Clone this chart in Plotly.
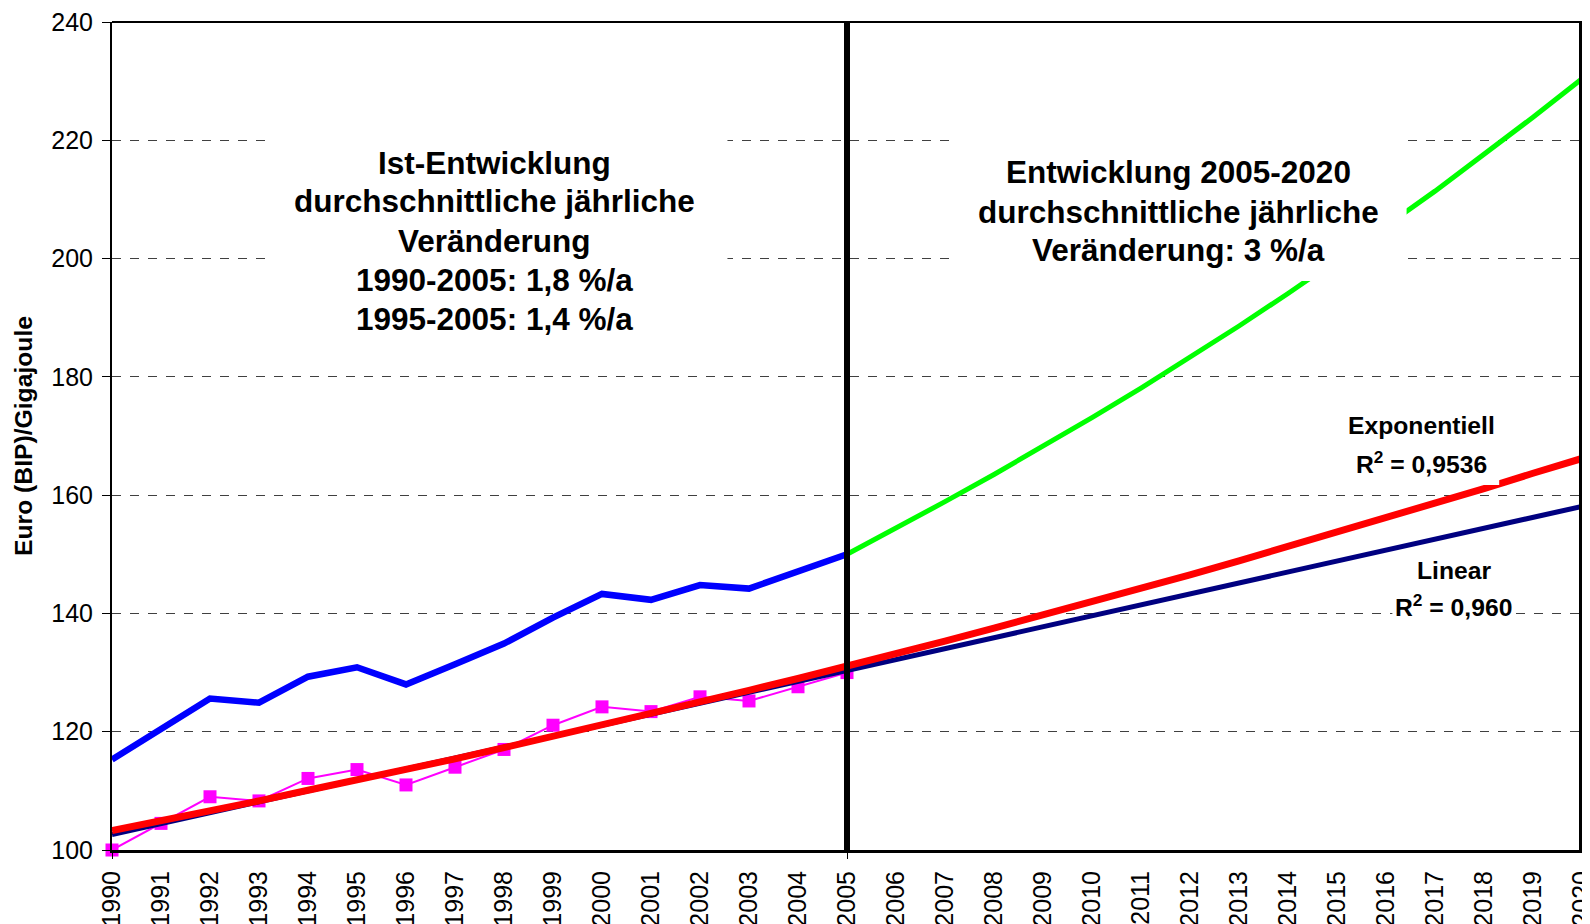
import plotly.graph_objects as go

# ---------------- data ----------------
years_hist = list(range(1990, 2006))
actual_blue = [115.3, 120.6, 125.6, 124.9, 129.3, 130.9, 128.0, 131.4, 134.9, 139.3,
               143.3, 142.3, 144.8, 144.2, 147.0, 150.0]
index_pink = [100.0, 104.5, 109.0, 108.3, 112.1, 113.6, 111.0, 114.0, 117.0, 121.1,
              124.2, 123.4, 125.9, 125.2, 127.6, 130.0]

years_future = list(range(2005, 2021))
scenario_green = [150.0, 154.4, 158.9, 163.5, 168.2, 173.1, 178.1, 183.3, 188.6, 194.1,
                  199.7, 205.5, 211.4, 217.6, 223.9, 230.4]

years_all = list(range(1990, 2021))
trend_exp = [103.3, 104.9, 106.6, 108.3, 110.1, 111.8, 113.6, 115.4, 117.3, 119.2,
             121.1, 123.0, 125.0, 127.0, 129.0, 131.0, 133.2, 135.3, 137.5, 139.7,
             141.9, 144.2, 146.5, 148.9, 151.3, 153.6, 156.1, 158.6, 161.1, 163.7, 166.2]

years_lin = [1990, 2005, 2020]
trend_lin = [102.6, 130.35, 158.1]

tick_years = years_all
tick_labels = [str(y) for y in years_all]

left_lines = ["Ist-Entwicklung", "durchschnittliche jährliche", "Veränderung",
              "1990-2005: 1,8 %/a", "1995-2005: 1,4 %/a"]
right_lines = ["Entwicklung 2005-2020", "durchschnittliche jährliche",
               "Veränderung: 3 %/a"]

FONT = "Liberation Sans"

fig = go.Figure()

fig.add_trace(go.Scatter(x=years_hist, y=index_pink, mode="lines+markers",
                         line=dict(color="#FF00FF", width=2),
                         marker=dict(symbol="square", size=13, color="#FF00FF"),
                         cliponaxis=False, showlegend=False))
fig.add_trace(go.Scatter(x=years_lin, y=trend_lin, mode="lines",
                         line=dict(color="#000080", width=5), showlegend=False))
fig.add_trace(go.Scatter(x=years_all, y=trend_exp, mode="lines",
                         line=dict(color="#FF0000", width=7), showlegend=False))
fig.add_trace(go.Scatter(x=years_hist, y=actual_blue, mode="lines",
                         line=dict(color="#0000FF", width=6.5), showlegend=False))
fig.add_trace(go.Scatter(x=years_future, y=scenario_green, mode="lines",
                         line=dict(color="#00FF00", width=5), showlegend=False))

# invisible trace on overlay axis carrying tick marks at 1990/2005/2020
fig.add_trace(go.Scatter(x=[1990, 2020], y=[100, 100], xaxis="x2", mode="lines",
                         line=dict(width=0), hoverinfo="skip", showlegend=False))

white = dict(type="rect", xref="x", yref="y", fillcolor="white",
             line=dict(width=0), layer="above")
shapes = [
    dict(white, x0=1993.25, x1=2002.56, y0=185, y1=223),
    dict(white, x0=2007.13, x1=2016.42, y0=196.2, y1=223),
    dict(white, x0=2015.13, x1=2018.31, y0=161.7, y1=176),
    dict(white, x0=2016.13, x1=2018.64, y0=137, y1=150.2),
    dict(type="line", xref="x", yref="paper", x0=2005, x1=2005, y0=0, y1=1,
         line=dict(color="black", width=6), layer="above"),
    dict(type="line", xref="paper", yref="paper", x0=1, x1=1, y0=0, y1=1,
         line=dict(color="black", width=6), layer="above"),
    dict(type="line", xref="paper", yref="paper", x0=0, x1=1, y0=1, y1=1,
         line=dict(color="black", width=2), layer="above"),
]

big_font = dict(family=FONT, size=31.5, color="black")
small_font = dict(family=FONT, size=24.7, color="black")

annotations = []
left_y = [216.2, 209.7, 203.0, 196.3, 189.7]
for txt, yv in zip(left_lines, left_y):
    annotations.append(dict(x=1997.80, y=yv, xref="x", yref="y", text=f"<b>{txt}</b>",
                            showarrow=False, font=big_font))
right_y = [214.6, 207.9, 201.4]
for txt, yv in zip(right_lines, right_y):
    annotations.append(dict(x=2011.77, y=yv, xref="x", yref="y", text=f"<b>{txt}</b>",
                            showarrow=False, font=big_font))
annotations += [
    dict(x=2016.72, y=171.7, xref="x", yref="y", text="<b>Exponentiell</b>",
         showarrow=False, font=small_font),
    dict(x=2016.72, y=165.6, xref="x", yref="y", text="<b>R<sup>2</sup> = 0,9536</b>",
         showarrow=False, font=small_font),
    dict(x=2017.38, y=147.3, xref="x", yref="y", text="<b>Linear</b>",
         showarrow=False, font=small_font),
    dict(x=2017.38, y=141.3, xref="x", yref="y", text="<b>R<sup>2</sup> = 0,960</b>",
         showarrow=False, font=small_font),
]

fig.update_layout(
    width=1582, height=916,
    margin=dict(l=104, r=8, t=14, b=74, autoexpand=False),
    paper_bgcolor="white", plot_bgcolor="white",
    font=dict(family=FONT, color="black"),
    shapes=shapes, annotations=annotations,
    xaxis=dict(range=[1990, 2020], tickmode="array", tickvals=tick_years,
               ticktext=tick_labels, tickangle=-90, ticklabeloverflow="allow",
               tickfont=dict(family=FONT, size=25, color="black"),
               ticks="outside", ticklen=8, tickcolor="rgba(0,0,0,0)",
               showgrid=False, zeroline=False,
               showline=True, linecolor="black", linewidth=3),
    xaxis2=dict(range=[1990, 2020], overlaying="x", side="bottom", anchor="y",
                tickmode="array", tickvals=[1990, 2005, 2020],
                showticklabels=False, ticks="outside", ticklen=8, tickwidth=1,
                tickcolor="black", showgrid=False, zeroline=False, showline=False),
    yaxis=dict(range=[100, 240], tickmode="linear", tick0=100, dtick=20,
               tickfont=dict(family=FONT, size=25, color="black"),
               ticklabeloverflow="allow",
               ticks="outside", ticklen=8, tickcolor="black", tickwidth=1,
               ticklabelstandoff=4,
               showgrid=True, gridcolor="#404040", gridwidth=1, griddash="dash",
               zeroline=False, showline=True, linecolor="black", linewidth=2,
               title=dict(text="<b>Euro (BIP)/Gigajoule</b>",
                          font=dict(family=FONT, size=24.7, color="black"),
                          standoff=12)),
)

fig.write_html("out.html")
